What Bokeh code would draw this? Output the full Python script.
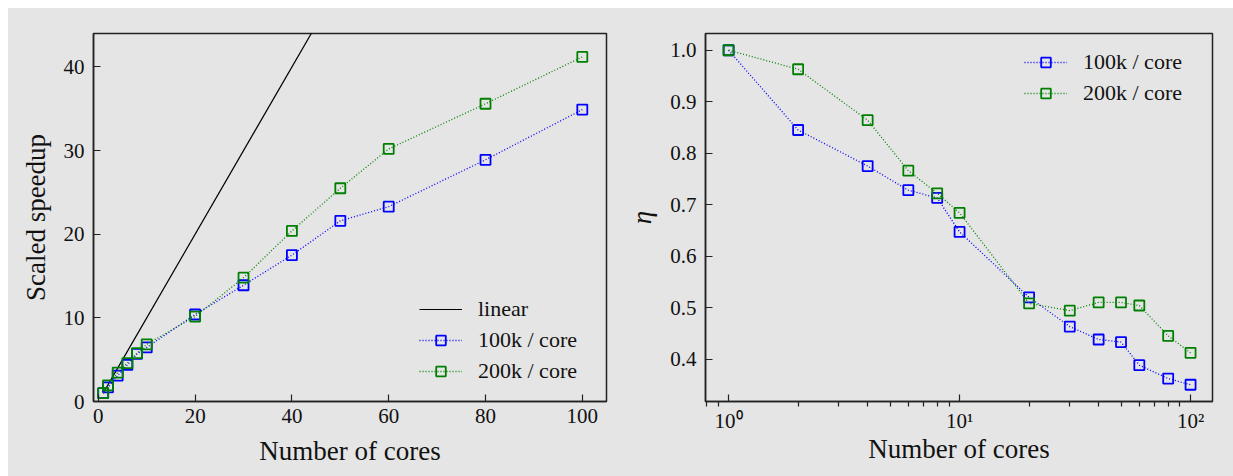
from bokeh.plotting import figure
from bokeh.layouts import row
from bokeh.models import FixedTicker, Legend, LegendItem, Range1d
from bokeh.embed import file_html
from bokeh.resources import INLINE

# ---------------- data ----------------
cores = [1, 2, 4, 6, 8, 10, 20, 30, 40, 50, 60, 80, 100]
speedup_100k = [1.0, 1.69, 3.1, 4.37, 5.70, 6.47, 10.4, 13.9, 17.5, 21.6, 23.3, 28.9, 34.9]
speedup_200k = [1.0, 1.93, 3.46, 4.6, 5.78, 6.84, 10.16, 14.8, 20.4, 25.5, 30.2, 35.6, 41.2]
eta_100k = [1.0, 0.845, 0.775, 0.728, 0.713, 0.647, 0.52, 0.463, 0.438, 0.433, 0.388, 0.362, 0.35]
eta_200k = [1.0, 0.963, 0.864, 0.766, 0.722, 0.684, 0.508, 0.494, 0.51, 0.51, 0.504, 0.445, 0.412]
linear_x = [1, 100]
linear_y = [1, 100]

left_xticks = [0, 20, 40, 60, 80, 100]
left_yticks = [0, 10, 20, 30, 40]
right_xticks = [1, 10, 100]
right_xtick_labels = {1: "10\u2070", 10: "10\u00b9", 100: "10\u00b2"}
right_xminor = [0.8, 0.9, 2, 3, 4, 5, 6, 7, 8, 9, 20, 30, 40, 50, 60, 70, 80, 90]
right_yticks = [0.4, 0.5, 0.6, 0.7, 0.8, 0.9, 1.0]
right_ytick_labels = {0.4: "0.4", 0.5: "0.5", 0.6: "0.6", 0.7: "0.7", 0.8: "0.8", 0.9: "0.9", 1.0: "1.0"}

series_labels = ["100k / core", "200k / core"]
x_label = "Number of cores"

# ---------------- style ----------------
BG = "#e5e5e5"
FONT = "Liberation Serif"
BLUE = "#0000ff"
GREEN = "#008000"
TXT = "#111111"
DASH = "1 2"


def style(p):
    p.background_fill_color = BG
    p.border_fill_color = BG
    p.outline_line_color = "#222222"
    p.outline_line_width = 1.5
    p.grid.grid_line_color = None
    for ax in p.axis:
        ax.axis_line_color = "#222222"
        ax.axis_line_width = 1.5
        ax.major_tick_in = 7
        ax.major_tick_out = 0
        ax.major_tick_line_color = "#222222"
        ax.major_tick_line_width = 1.2
        ax.minor_tick_line_color = None
        ax.major_label_text_font = FONT
        ax.major_label_text_font_size = "21px"
        ax.major_label_text_color = TXT
        ax.axis_label_text_font = FONT
        ax.axis_label_text_font_size = "27px"
        ax.axis_label_text_font_style = "normal"
        ax.axis_label_text_color = TXT
    p.xaxis.major_label_standoff = 7
    p.yaxis.major_label_standoff = 9
    p.xaxis.axis_label_standoff = 10
    p.yaxis.axis_label_standoff = 10


def legend_style(lg):
    lg.background_fill_alpha = 0
    lg.border_line_color = None
    lg.label_text_font = FONT
    lg.label_text_font_size = "22px"
    lg.label_text_color = TXT
    lg.glyph_width = 43
    lg.glyph_height = 24
    lg.label_height = 24
    lg.label_standoff = 16
    lg.spacing = 5
    lg.padding = 10
    lg.margin = 0


# ---------------- left plot ----------------
p1 = figure(frame_width=513, frame_height=368, output_backend="svg", toolbar_location=None,
            x_range=Range1d(-1, 105), y_range=Range1d(0, 44),
            min_border_left=85, min_border_right=14, min_border_top=25, min_border_bottom=75)
style(p1)
p1.xaxis.ticker = FixedTicker(ticks=left_xticks)
p1.yaxis.ticker = FixedTicker(ticks=left_yticks)
p1.xaxis.axis_label = x_label
p1.yaxis.axis_label = "Scaled speedup"

r_lin = p1.line(linear_x, linear_y, line_color="black", line_width=1.2)
l1a = p1.line(cores, speedup_100k, line_color=BLUE, line_width=1.3, line_dash=DASH)
s1a = p1.scatter(cores, speedup_100k, marker="square", size=10, line_color=BLUE, line_width=1.8, fill_alpha=0)
l1b = p1.line(cores, speedup_200k, line_color=GREEN, line_width=1.3, line_dash=DASH)
s1b = p1.scatter(cores, speedup_200k, marker="square", size=10, line_color=GREEN, line_width=1.8, fill_alpha=0)

lg1 = Legend(items=[LegendItem(label="linear", renderers=[r_lin]),
                    LegendItem(label=series_labels[0], renderers=[l1a, s1a]),
                    LegendItem(label=series_labels[1], renderers=[l1b, s1b])],
             location=(326, 17))
legend_style(lg1)
p1.add_layout(lg1)

# ---------------- right plot ----------------
p2 = figure(frame_width=507, frame_height=368, output_backend="svg", toolbar_location=None,
            x_axis_type="log", x_range=Range1d(10 ** -0.1, 10 ** 2.095), y_range=Range1d(0.3175, 1.0325),
            min_border_left=85, min_border_right=21, min_border_top=25, min_border_bottom=75)
style(p2)
p2.xaxis.ticker = FixedTicker(ticks=right_xticks, minor_ticks=right_xminor)
p2.xaxis.major_label_overrides = right_xtick_labels
p2.xaxis.minor_tick_line_color = "#222222"
p2.xaxis.minor_tick_line_width = 1.2
p2.xaxis.minor_tick_in = 0
p2.xaxis.minor_tick_out = 5
p2.xaxis.major_label_standoff = 2
p2.xaxis.axis_label_standoff = -2
p2.yaxis.ticker = FixedTicker(ticks=right_yticks)
p2.yaxis.major_label_overrides = right_ytick_labels
p2.xaxis.axis_label = x_label
p2.yaxis.axis_label = "\u03b7"
p2.yaxis.axis_label_text_font_style = "italic"

l2a = p2.line(cores, eta_100k, line_color=BLUE, line_width=1.3, line_dash=DASH)
s2a = p2.scatter(cores, eta_100k, marker="square", size=10, line_color=BLUE, line_width=1.8, fill_alpha=0)
l2b = p2.line(cores, eta_200k, line_color=GREEN, line_width=1.3, line_dash=DASH)
s2b = p2.scatter(cores, eta_200k, marker="square", size=10, line_color=GREEN, line_width=1.8, fill_alpha=0)

lg2 = Legend(items=[LegendItem(label=series_labels[0], renderers=[l2a, s2a]),
                    LegendItem(label=series_labels[1], renderers=[l2b, s2b])],
             location=(319, 295))
legend_style(lg2)
p2.add_layout(lg2)

layout = row(p1, p2, spacing=0, margin=(8, 0, 0, 8), styles={"background-color": BG})
open("out.html", "w").write(file_html(layout, INLINE))
